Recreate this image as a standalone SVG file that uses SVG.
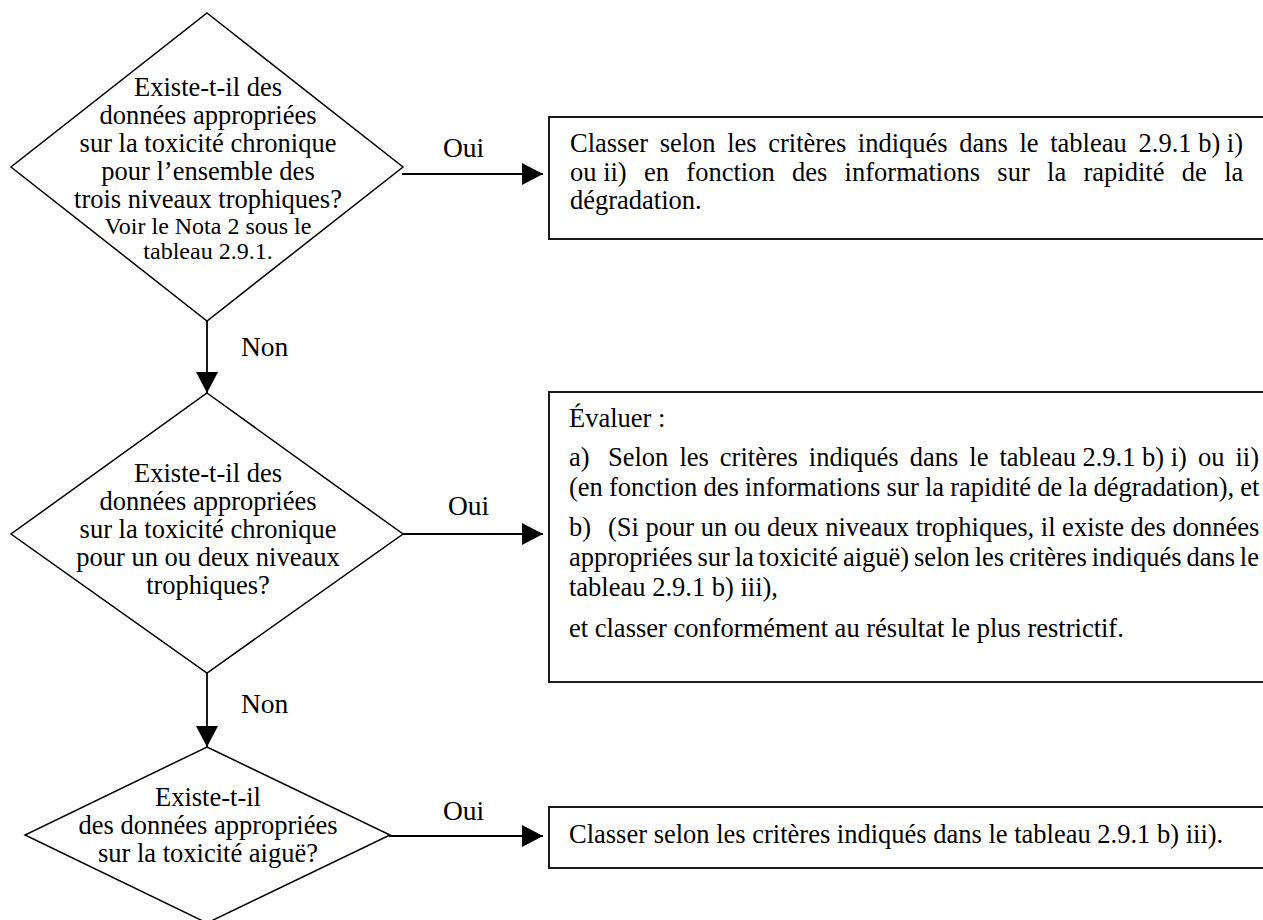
<svg xmlns="http://www.w3.org/2000/svg" width="1263" height="920" viewBox="0 0 1263 920">
<style>
  text { font-family: "Liberation Serif", "Times New Roman", serif; fill: #000; }
  .t { font-size: 26.5px; }
  .c { font-size: 26.5px; text-anchor: middle; }
  .s { font-size: 24px; text-anchor: middle; }
  .lbl { font-size: 27.5px; }
  .dia { fill: #fff; stroke: #000; stroke-width: 1.5; }
  .box { fill: #fff; stroke: #1a1a1a; stroke-width: 2; }
  .con { stroke: #000; stroke-width: 1.8; fill: none; }
</style>
<defs>
  <marker id="ah" markerWidth="22" markerHeight="22" refX="21" refY="11" orient="auto" markerUnits="userSpaceOnUse">
    <path d="M0,0 L21,11 L0,22 Z" fill="#000"/>
  </marker>
</defs>
<rect width="1263" height="920" fill="#fff"/>

<g id="connectors">
  <line class="con" x1="402" y1="174" x2="543" y2="174" marker-end="url(#ah)"/>
  <line class="con" x1="207" y1="321" x2="207" y2="393" marker-end="url(#ah)"/>
  <line class="con" x1="402" y1="534" x2="543" y2="534" marker-end="url(#ah)"/>
  <line class="con" x1="207" y1="673" x2="207" y2="747" marker-end="url(#ah)"/>
  <line class="con" x1="389" y1="836" x2="543" y2="836" marker-end="url(#ah)"/>
  <text class="lbl" x="443" y="157">Oui</text>
  <text class="lbl" x="241" y="356">Non</text>
  <text class="lbl" x="448" y="515">Oui</text>
  <text class="lbl" x="241" y="713">Non</text>
  <text class="lbl" x="443" y="820">Oui</text>
</g>

<g id="q1">
  <polygon class="dia" points="207,13 403,167 207,321 11,167"/>
  <text class="c" x="208" y="96">Existe-t-il des</text>
  <text class="c" x="208" y="124">données appropriées</text>
  <text class="c" x="208" y="152">sur la toxicité chronique</text>
  <text class="c" x="208" y="180">pour l’ensemble des</text>
  <text class="c" x="208" y="208">trois niveaux trophiques?</text>
  <text class="s" x="208" y="234">Voir le Nota 2 sous le</text>
  <text class="s" x="208" y="259">tableau 2.9.1.</text>
</g>

<g id="r1">
  <rect class="box" x="549" y="117" width="716" height="122"/>
  <text class="t" x="570" y="152"><tspan word-spacing="5">Classer selon les critères indiqués dans le tableau</tspan><tspan x="1138.5">2.9.1 b) i)</tspan></text>
  <text class="t" x="570" y="181">ou ii)<tspan x="644" word-spacing="10.7">en fonction des informations sur la rapidité de la</tspan></text>
  <text class="t" x="570" y="209">dégradation.</text>
</g>

<g id="q2">
  <polygon class="dia" points="207,393 403,534 207,673 11,534"/>
  <text class="c" x="208" y="482">Existe-t-il des</text>
  <text class="c" x="208" y="510">données appropriées</text>
  <text class="c" x="208" y="538">sur la toxicité chronique</text>
  <text class="c" x="208" y="566">pour un ou deux niveaux</text>
  <text class="c" x="208" y="594">trophiques?</text>
</g>

<g id="r2">
  <rect class="box" x="549" y="392" width="716" height="290"/>
  <text class="t" x="569" y="427">Évaluer :</text>
  <text class="t" x="569" y="466">a)<tspan x="608" word-spacing="4.4">Selon les critères indiqués dans le tableau</tspan><tspan x="1082.4">2.9.1 b) i)</tspan><tspan x="1197.9" word-spacing="4.4">ou ii)</tspan></text>
  <text class="t" x="569" y="496" word-spacing="-0.5">(en fonction des informations sur la rapidité de la dégradation), et</text>
  <text class="t" x="569" y="536">b)<tspan x="608">(Si pour un ou deux niveaux trophiques, il existe des données</tspan></text>
  <text class="t" x="569" y="566" word-spacing="-1.8">appropriées sur la toxicité aiguë) selon les critères indiqués dans le</text>
  <text class="t" x="569" y="596">tableau 2.9.1 b) iii),</text>
  <text class="t" x="569" y="637">et classer conformément au résultat le plus restrictif.</text>
</g>

<g id="q3">
  <polygon class="dia" points="207,747 390,835 207,923 25,835"/>
  <text class="c" x="208" y="806">Existe-t-il</text>
  <text class="c" x="208" y="834">des données appropriées</text>
  <text class="c" x="208" y="862">sur la toxicité aiguë?</text>
</g>

<g id="r3">
  <rect class="box" x="549" y="807" width="716" height="61"/>
  <text class="t" x="569" y="843">Classer selon les critères indiqués dans le tableau 2.9.1 b) iii).</text>
</g>
</svg>
